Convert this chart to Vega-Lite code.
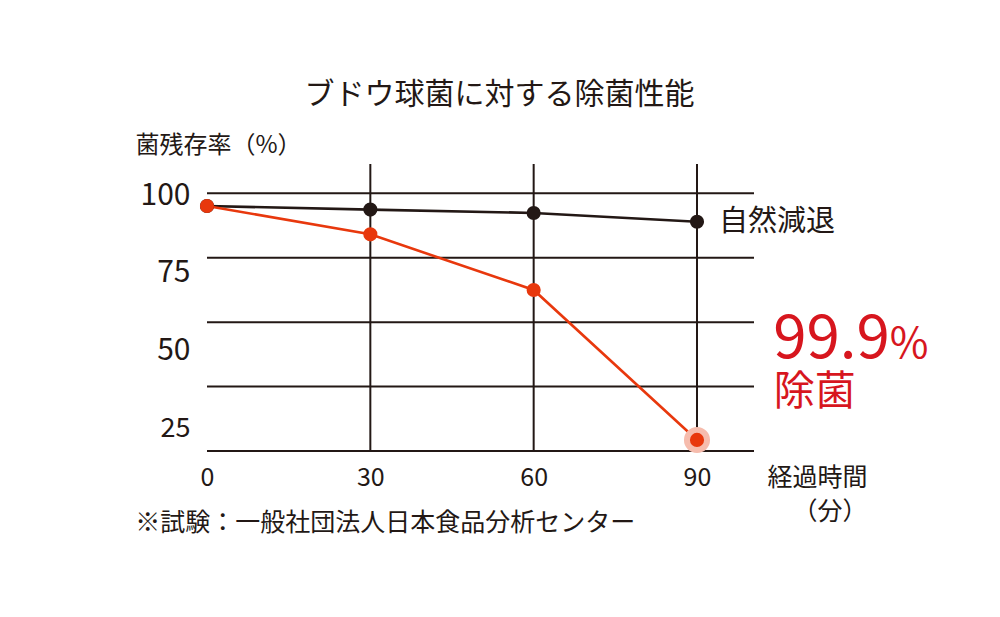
{
  "$schema": "https://vega.github.io/schema/vega-lite/v6.json",
  "width": 547,
  "height": 287,
  "autosize": {"type": "none"},
  "padding": {"left": 207, "top": 164, "right": 246, "bottom": 166},
  "background": "white",
  "config": {
    "view": {"stroke": null},
    "font": "Noto Sans CJK JP",
    "text": {"font": "Noto Sans CJK JP"}
  },
  "title": {
    "text": "ブドウ球菌に対する除菌性能",
    "font": "Noto Sans CJK JP",
    "fontSize": 30,
    "fontWeight": "normal",
    "color": "#231815",
    "anchor": "middle",
    "dx": 19,
    "offset": 23
  },
  "datasets": {
    "series": [
      {"series": "自然減退", "t": 0, "pct": 95.1},
      {"series": "自然減退", "t": 30, "pct": 93.7},
      {"series": "自然減退", "t": 60, "pct": 92.4},
      {"series": "自然減退", "t": 90, "pct": 89.0},
      {"series": "除菌", "t": 0, "pct": 95.1},
      {"series": "除菌", "t": 30, "pct": 84.1},
      {"series": "除菌", "t": 60, "pct": 62.5},
      {"series": "除菌", "t": 90, "pct": 4.3}
    ],
    "hgrid": [{"v": 0}, {"v": 25}, {"v": 50}, {"v": 75}, {"v": 100}],
    "vgrid": [{"t": 30}, {"t": 60}, {"t": 90}]
  },
  "layer": [
    {
      "layer": [
        {
          "data": {"name": "hgrid"},
          "mark": {"type": "rule", "color": "#231815", "strokeWidth": 2},
          "encoding": {
            "y": {"field": "v", "type": "quantitative", "scale": {"domain": [0, 111.4], "nice": false, "zero": false}, "axis": null}
          }
        },
        {
          "data": {"name": "vgrid"},
          "mark": {"type": "rule", "color": "#231815", "strokeWidth": 2},
          "encoding": {
            "x": {
              "field": "t", "type": "quantitative",
              "scale": {"domain": [0, 100.47], "nice": false, "zero": false},
              "axis": {
                "values": [0, 30, 60, 90],
                "grid": false, "domain": false, "ticks": false,
                "labelFlush": false,
                "labelFontSize": 25, "labelColor": "#231815", "labelPadding": 14, "labelFont": "Noto Sans CJK JP",
                "title": ["経過時間", "（分）"],
                "titleFont": "Noto Sans CJK JP",
                "titleFontSize": 25, "titleFontWeight": "normal", "titleColor": "#231815",
                "titleAlign": "right", "titleBaseline": "top", "titleX": 660, "titleY": 14, "titleLineHeight": 34
              }
            }
          }
        },
        {
          "data": {"name": "series"},
          "mark": {"type": "line", "strokeWidth": 2.6},
          "encoding": {
            "x": {"field": "t", "type": "quantitative", "scale": {"domain": [0, 100.47], "nice": false, "zero": false}},
            "y": {"field": "pct", "type": "quantitative", "scale": {"domain": [0, 111.4], "nice": false, "zero": false}, "axis": null},
            "color": {"field": "series", "type": "nominal", "scale": {"domain": ["自然減退", "除菌"], "range": ["#231815", "#e8380d"]}, "legend": null}
          }
        },
        {
          "data": {"name": "series"},
          "transform": [{"filter": "datum.series == '除菌' && datum.t == 90"}],
          "mark": {"type": "circle", "size": 680, "opacity": 1, "color": "#f6bcad"},
          "encoding": {
            "x": {"field": "t", "type": "quantitative", "scale": {"domain": [0, 100.47], "nice": false, "zero": false}},
            "y": {"field": "pct", "type": "quantitative", "scale": {"domain": [0, 111.4], "nice": false, "zero": false}, "axis": null}
          }
        },
        {
          "data": {"name": "series"},
          "mark": {"type": "circle", "size": 200, "opacity": 1},
          "encoding": {
            "x": {"field": "t", "type": "quantitative", "scale": {"domain": [0, 100.47], "nice": false, "zero": false}},
            "y": {"field": "pct", "type": "quantitative", "scale": {"domain": [0, 111.4], "nice": false, "zero": false}, "axis": null},
            "color": {"field": "series", "type": "nominal", "scale": {"domain": ["自然減退", "除菌"], "range": ["#231815", "#e8380d"]}, "legend": null}
          }
        },
        {
          "data": {"name": "series"},
          "transform": [{"filter": "datum.series == '自然減退' && datum.t == 90"}],
          "mark": {"type": "text", "align": "left", "baseline": "middle", "dx": 22, "fontSize": 29, "color": "#231815"},
          "encoding": {
            "x": {"field": "t", "type": "quantitative", "scale": {"domain": [0, 100.47], "nice": false, "zero": false}},
            "y": {"field": "pct", "type": "quantitative", "scale": {"domain": [0, 111.4], "nice": false, "zero": false}, "axis": null},
            "text": {"field": "series"}
          }
        },
        {
          "data": {"values": [{"label": "99.9", "t": 104.0, "pct": 36.2}]},
          "mark": {"type": "text", "align": "left", "baseline": "alphabetic", "fontSize": 60, "color": "#d7161e"},
          "encoding": {
            "x": {"field": "t", "type": "quantitative", "scale": {"domain": [0, 100.47], "nice": false, "zero": false}},
            "y": {"field": "pct", "type": "quantitative", "scale": {"domain": [0, 111.4], "nice": false, "zero": false}, "axis": null},
            "text": {"field": "label"}
          }
        },
        {
          "data": {"values": [{"label": "%", "t": 125.4, "pct": 36.2}]},
          "mark": {"type": "text", "align": "left", "baseline": "alphabetic", "fontSize": 42, "color": "#d7161e"},
          "encoding": {
            "x": {"field": "t", "type": "quantitative", "scale": {"domain": [0, 100.47], "nice": false, "zero": false}},
            "y": {"field": "pct", "type": "quantitative", "scale": {"domain": [0, 111.4], "nice": false, "zero": false}, "axis": null},
            "text": {"field": "label"}
          }
        },
        {
          "data": {"values": [{"label": "除菌", "t": 104.1, "pct": 22.4}]},
          "mark": {"type": "text", "align": "left", "baseline": "middle", "fontSize": 41, "color": "#d7161e"},
          "encoding": {
            "x": {"field": "t", "type": "quantitative", "scale": {"domain": [0, 100.47], "nice": false, "zero": false}},
            "y": {"field": "pct", "type": "quantitative", "scale": {"domain": [0, 111.4], "nice": false, "zero": false}, "axis": null},
            "text": {"field": "label"}
          }
        },
        {
          "data": {"values": [{"label": "※試験：一般社団法人日本食品分析センター", "t": -13.2, "pct": -27.9}]},
          "mark": {"type": "text", "align": "left", "baseline": "middle", "fontSize": 25, "color": "#231815"},
          "encoding": {
            "x": {"field": "t", "type": "quantitative", "scale": {"domain": [0, 100.47], "nice": false, "zero": false}},
            "y": {"field": "pct", "type": "quantitative", "scale": {"domain": [0, 111.4], "nice": false, "zero": false}, "axis": null},
            "text": {"field": "label"}
          }
        }
      ]
    },
    {
      "data": {"name": "hgrid"},
      "mark": {"type": "point", "opacity": 0},
      "encoding": {
        "y": {
          "field": "v", "type": "quantitative",
          "scale": {"domain": [17.6, 110], "nice": false, "zero": false},
          "axis": {
            "orient": "left",
            "values": [25, 50, 75, 100],
            "grid": false, "domain": false, "ticks": false,
            "labelFontSize": {"condition": {"test": "datum.value == 25", "value": 27}, "value": 30},
            "labelColor": "#231815", "labelPadding": 17, "labelFont": "Noto Sans CJK JP",
            "title": "菌残存率（%）",
            "titleFont": "Noto Sans CJK JP",
            "titleFontSize": 24, "titleFontWeight": "normal", "titleColor": "#231815",
            "titleAngle": 0, "titleAlign": "left", "titleBaseline": "middle",
            "titleX": -72, "titleY": -19
          }
        }
      }
    }
  ],
  "resolve": {"scale": {"y": "independent"}, "axis": {"y": "independent"}}
}
